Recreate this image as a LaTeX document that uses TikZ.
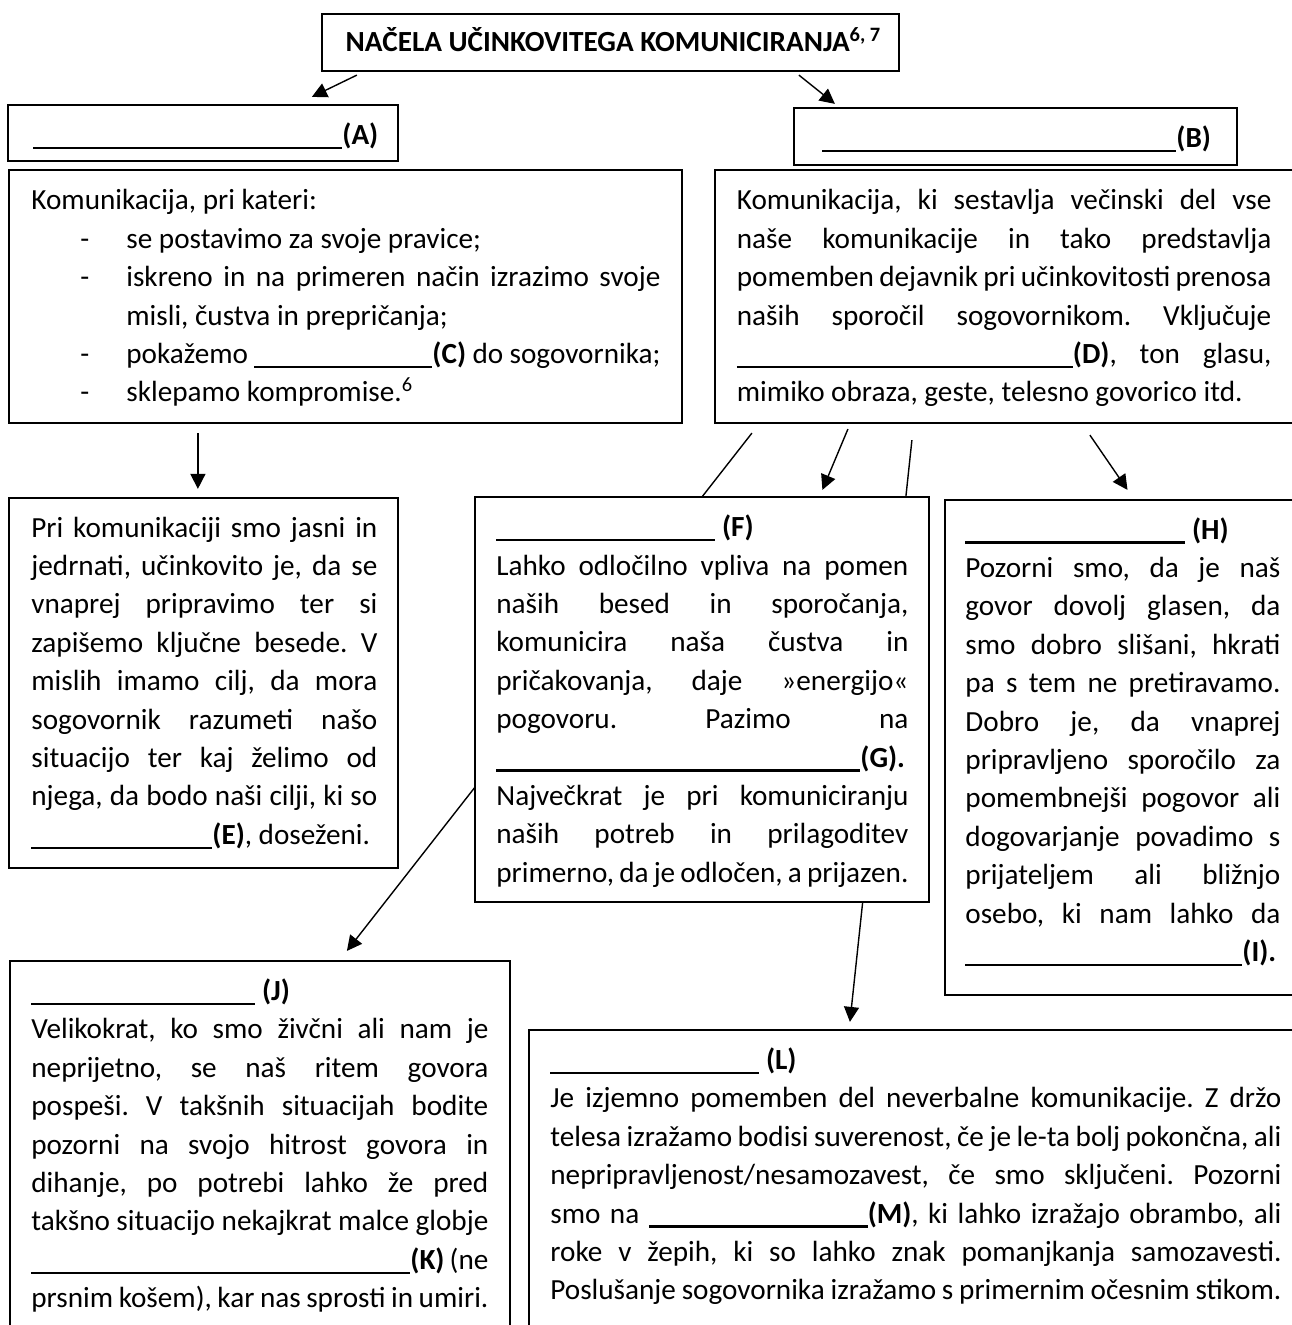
\documentclass[tikz,border=0pt]{standalone}
\usepackage{fontspec}
\setmainfont{Carlito}
\usetikzlibrary{arrows.meta,calc,fit,backgrounds}
\newcommand\bodyfont{\fontsize{14.6pt}{19.2pt}\selectfont}
\newcommand\setsp{\frenchspacing\spaceskip=3.3pt plus 40pt minus 1.4pt\xspaceskip=\spaceskip\relax}
\newcommand\bl[1]{\rule[-2.3pt]{#1}{1.15pt}}
\newcommand\jl[1]{\leavevmode\hbox to \hsize{#1}}
\newcommand\jw[2]{\hbox to #1{#2}}
\begin{document}
\begin{tikzpicture}[x=0.5pt,y=-0.5pt,
  box/.style={draw=black,line width=1.1pt,fill=white,inner sep=0pt},
  txt/.style={anchor=base west,inner sep=0pt,align=left,font=\bodyfont},
  conn/.style={draw=black,line width=0.7pt},
  arr/.style={conn,-{Triangle[length=7.5pt,width=7.5pt]}}]
\useasboundingbox (0,0) rectangle (1291,1325);
% boxes
\node[box,fit={(322,14) (899,71)}] (title) {};
\node[box,fit={(8,105) (398,161)}] (boxA) {};
\node[box,fit={(794,108) (1237,165)}] (boxB) {};
\node[box,fit={(9,170) (682,423)}] (box1) {};
\node[box,fit={(715,170) (1300,423)}] (box2) {};
\node[box,fit={(9,498) (398,868)}] (box3) {};
\node[box,fit={(475,497) (929,902)}] (boxF) {};
\node[box,fit={(945,500) (1300,995)}] (boxH) {};
\node[box,fit={(10,961) (510,1340)}] (boxJ) {};
\node[box,fit={(529,1030) (1300,1340)}] (boxL) {};
% white page and connectors passing behind box F
\begin{scope}[on background layer]
\fill[white] (0,0) rectangle (1291,1325);
\draw[arr] ($(box2.south west)+(38,9)$) -- ($(boxJ.north west)+(338,-9)$);
\draw[arr] ($(box2.south west)+(198,16)$) -- ($(boxL.north west)+(322,-7)$);
\end{scope}
% other connectors
\draw[arr] ($(title.south west)+(36,3)$) -- ($(boxA.north west)+(305,-7)$);
\draw[arr] ($(title.south west)+(478,3)$) -- ($(boxB.north west)+(42,-3)$);
\draw[arr] ($(box1.south west)+(190,9)$) -- ($(box3.north west)+(190,-8)$);
\draw[arr] ($(box2.south west)+(134,5)$) -- ($(boxF.north west)+(348.5,-6)$);
\draw[arr] ($(box2.south west)+(376,11)$) -- ($(boxH.north west)+(183.6,-9)$);
% texts
\node[anchor=base,inner sep=0pt,font=\fontsize{14.6pt}{17pt}\selectfont\bfseries] (ttitle) at (613.5,52) {NAČELA UČINKOVITEGA KOMUNICIRANJA\textsuperscript{6, 7}};
\node[txt] (tA) at (33,144.5) {\bl{154.5pt}\textbf{(A)}};
\node[txt] (tB) at (822,147.5) {\bl{177pt}\textbf{(B)}};
\node[txt,text width=314.5pt] (t1) at (31,210) {\setsp Komunikacija, pri kateri:\\
\hspace*{24.5pt}\makebox[23pt][l]{-}se postavimo za svoje pravice;\\
\hspace*{24.5pt}\makebox[23pt][l]{-}\jw{267pt}{iskreno in na primeren način izrazimo svoje}\\
\hspace*{47.5pt}misli, čustva in prepričanja;\\
\hspace*{24.5pt}\makebox[23pt][l]{-}\jw{267pt}{pokažemo \bl{89pt}\textbf{(C)} do sogovornika;}\\
\hspace*{24.5pt}\makebox[23pt][l]{-}sklepamo kompromise.\textsuperscript{6}};
\node[txt,text width=267.25pt] (t2) at (736.5,210) {\setsp\jl{Komunikacija, ki sestavlja večinski del vse}\\
\jl{naše komunikacije in tako predstavlja}\\
\jl{pomemben dejavnik pri učinkovitosti prenosa}\\
\jl{naših sporočil sogovornikom. Vključuje}\\
\jl{\bl{168pt}\textbf{(D)}, ton glasu,}\\
mimiko obraza, geste, telesno govorico itd.};
\node[txt,text width=173pt] (t3) at (31,537) {\setsp\jl{Pri komunikaciji smo jasni in}\\
\jl{jedrnati, učinkovito je, da se}\\
\jl{vnaprej pripravimo ter si}\\
\jl{zapišemo ključne besede. V}\\
\jl{mislih imamo cilj, da mora}\\
\jl{sogovornik razumeti našo}\\
\jl{situacijo ter kaj želimo od}\\
\jl{njega, da bodo naši cilji, ki so}\\
\bl{90.5pt}\textbf{(E)}, doseženi.};
\node[txt,text width=206pt] (tF) at (496,536.6) {\setsp\bl{109.5pt} \textbf{(F)}\\
\jl{Lahko odločilno vpliva na pomen}\\
\jl{naših besed in sporočanja,}\\
\jl{komunicira naša čustva in}\\
\jl{pričakovanja, daje »energijo«}\\
\jl{pogovoru. Pazimo na}\\
\bl{182pt}\textbf{(G).}\\
\jl{Največkrat je pri komuniciranju}\\
\jl{naših potreb in prilagoditev}\\
\jl{primerno, da je odločen, a prijazen.}};
\node[txt,text width=157.5pt] (tH) at (965,539) {\setsp\bl{110pt} \textbf{(H)}\\
\jl{Pozorni smo, da je naš}\\
\jl{govor dovolj glasen, da}\\
\jl{smo dobro slišani, hkrati}\\
\jl{pa s tem ne pretiravamo.}\\
\jl{Dobro je, da vnaprej}\\
\jl{pripravljeno sporočilo za}\\
\jl{pomembnejši pogovor ali}\\
\jl{dogovarjanje povadimo s}\\
\jl{prijateljem ali bližnjo}\\
\jl{osebo, ki nam lahko da}\\
\bl{138.5pt}\textbf{(I).}};
\node[txt,text width=228.5pt] (tJ) at (31,1000.5) {\setsp\bl{112pt} \textbf{(J)}\\
\jl{Velikokrat, ko smo živčni ali nam je}\\
\jl{neprijetno, se naš ritem govora}\\
\jl{pospeši. V takšnih situacijah bodite}\\
\jl{pozorni na svojo hitrost govora in}\\
\jl{dihanje, po potrebi lahko že pred}\\
\jl{takšno situacijo nekajkrat malce globje}\\
\jl{\bl{189.5pt}\textbf{(K)} (ne}\\
\jl{prsnim košem), kar nas sprosti in umiri.}};
\node[txt,text width=365.5pt] (tL) at (550,1069.5) {\setsp\bl{104.5pt} \textbf{(L)}\\
\jl{Je izjemno pomemben del neverbalne komunikacije. Z držo}\\
\jl{telesa izražamo bodisi suverenost, če je le-ta bolj pokončna, ali}\\
\jl{nepripravljenost/nesamozavest, če smo sključeni. Pozorni}\\
\jl{smo na \bl{109.5pt}\textbf{(M)}, ki lahko izražajo obrambo, ali}\\
\jl{roke v žepih, ki so lahko znak pomanjkanja samozavesti.}\\
\jl{Poslušanje sogovornika izražamo s primernim očesnim stikom.}};
\end{tikzpicture}
\end{document}
